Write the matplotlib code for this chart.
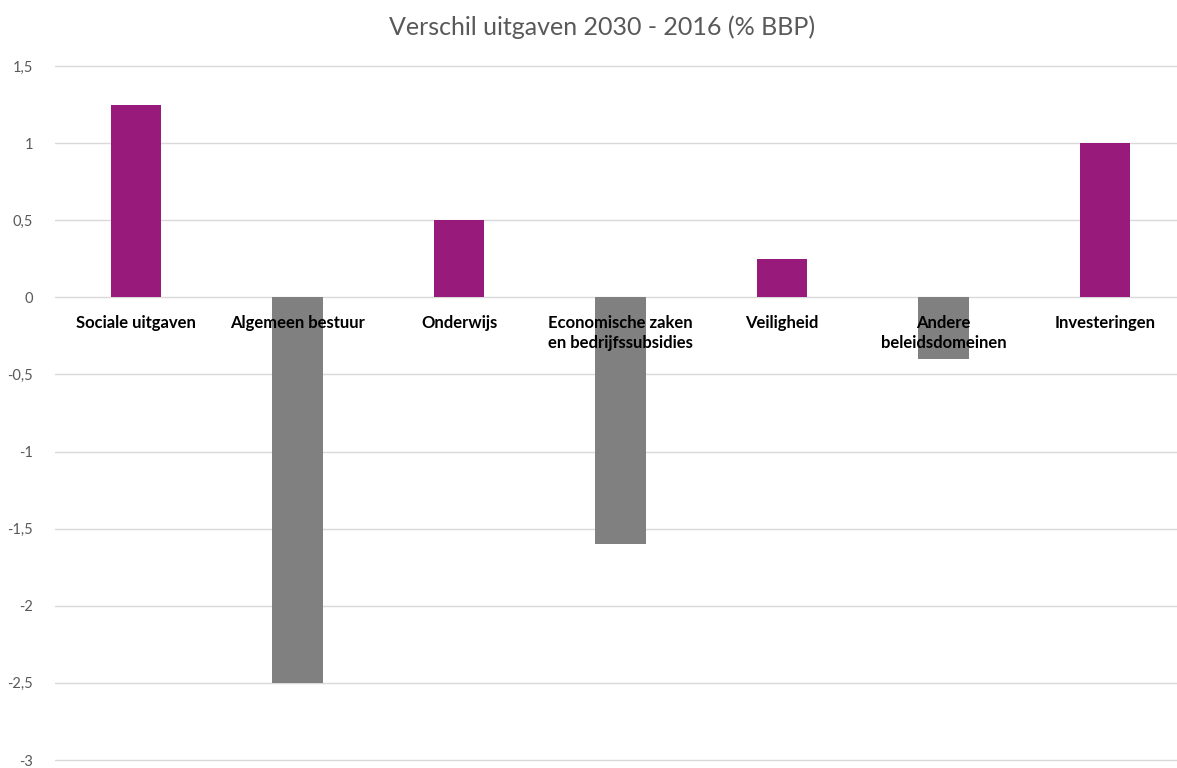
import matplotlib
matplotlib.use("Agg")
import matplotlib.pyplot as plt
from matplotlib.ticker import FuncFormatter

categories = ["Sociale uitgaven", "Algemeen bestuur", "Onderwijs",
              "Economische zaken\nen bedrijfssubsidies", "Veiligheid",
              "Andere\nbeleidsdomeinen", "Investeringen"]
values = [1.25, -2.5, 0.5, -1.6, 0.25, -0.4, 1.0]
yticks = [1.5, 1, 0.5, 0, -0.5, -1, -1.5, -2, -2.5, -3]

plt.rcParams['font.family'] = ['Lato', 'DejaVu Sans']

W, H = 1177, 768
fig = plt.figure(figsize=(W / 100, H / 100), dpi=100)
ylo, yhi = -3.03, 1.53
# pixel mapping: y=1.5 -> 66, y=-3 -> 760
ppu = (760 - 66) / 4.5
top_px = 66 - (yhi - 1.5) * ppu
bot_px = 760 + (-3 - ylo) * ppu
left_px = 136 - 0.5 * 161.5
width_px = 7 * 161.5
ax = fig.add_axes([left_px / W, 1 - bot_px / H, width_px / W, (bot_px - top_px) / H])

xs = list(range(len(categories)))
colors = ["#981B7C" if v >= 0 else "#808080" for v in values]
ax.bar(xs, values, width=0.31, color=colors, zorder=2)

ax.set_xlim(-0.5, len(categories) - 0.5)
ax.set_ylim(ylo, yhi)
ax.set_yticks(yticks)
ax.yaxis.set_major_formatter(FuncFormatter(lambda v, p: ("%g" % v).replace(".", ",")))
ax.tick_params(axis='y', length=0, labelsize=10.5, labelcolor="#595959", pad=16)
ax.set_xticks([])
ax.grid(axis='y', color="#D9D9D9", linewidth=1, zorder=0)
for s in ax.spines.values():
    s.set_visible(False)

for x, c in zip(xs, categories):
    ax.annotate(c, xy=(x, 0), xytext=(0, -12.5), textcoords="offset points",
                ha="center", va="top", fontsize=12, fontweight="bold",
                color="black", zorder=5, linespacing=1.35)

fig.text(602 / W, 1 - 27 / H, "Verschil uitgaven 2030 - 2016 (% BBP)",
         ha="center", va="center", fontsize=18, color="#595959")

fig.savefig("out.png", dpi=100)
